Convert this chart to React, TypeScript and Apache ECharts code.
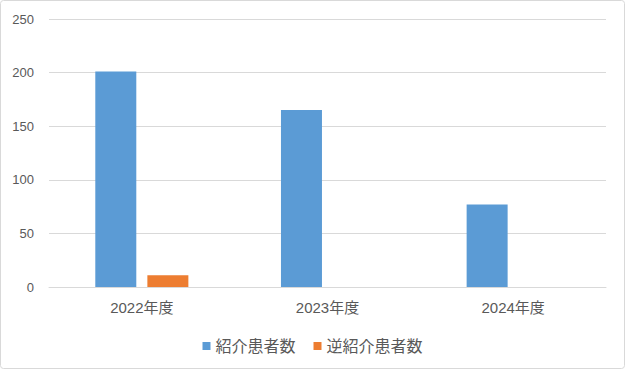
import React, { useEffect, useRef } from "react";
import * as echarts from "echarts";

const categories = ["2022年度", "2023年度", "2024年度"];
const seriesNames = ["紹介患者数", "逆紹介患者数"];
const referralValues = [201, 165, 77];
const reverseReferralValues = [11, 0, 0];
const yTicks = { min: 0, max: 250, interval: 50 };

export default function App() {
  const ref = useRef<HTMLDivElement>(null);
  useEffect(() => {
    document.body.style.margin = "0";
    if (!ref.current) return;
    const chart = echarts.init(ref.current, null, { renderer: "svg" });
    const font = '"Liberation Sans", "Noto Sans CJK JP", sans-serif';
    chart.setOption({
      animation: false,
      backgroundColor: "#ffffff",
      textStyle: { fontFamily: font },
      graphic: [
        {
          type: "rect",
          shape: { x: 0.5, y: 0.5, width: 624, height: 368, r: 3 },
          style: { fill: "none", stroke: "#d9d9d9", lineWidth: 1 },
          silent: true,
        },
      ],
      grid: { left: 49, right: 19, top: 19, bottom: 82 },
      legend: {
        data: seriesNames,
        left: "center",
        top: 333,
        itemWidth: 8,
        itemHeight: 8,
        itemGap: 18,
        icon: "rect",
        textStyle: { fontSize: 16, color: "#595959", fontFamily: font },
      },
      xAxis: {
        type: "category",
        data: categories,
        axisLine: { show: true, lineStyle: { color: "#d9d9d9" } },
        axisTick: { show: false },
        axisLabel: { fontSize: 15, color: "#595959", margin: 13, fontFamily: font },
      },
      yAxis: {
        type: "value",
        min: yTicks.min,
        max: yTicks.max,
        interval: yTicks.interval,
        axisLine: { show: false },
        axisTick: { show: false },
        splitLine: { lineStyle: { color: "#d9d9d9" } },
        axisLabel: { fontSize: 13, color: "#595959", margin: 15, fontFamily: font },
      },
      series: [
        {
          name: seriesNames[0],
          type: "bar",
          data: referralValues,
          barWidth: 41,
          barGap: "27%",
          itemStyle: { color: "#5b9bd5" },
        },
        {
          name: seriesNames[1],
          type: "bar",
          data: reverseReferralValues,
          barWidth: 41,
          barGap: "27%",
          itemStyle: { color: "#ed7d31" },
        },
      ],
    });
    return () => chart.dispose();
  }, []);
  return <div ref={ref} style={{ width: 625, height: 369 }} />;
}
